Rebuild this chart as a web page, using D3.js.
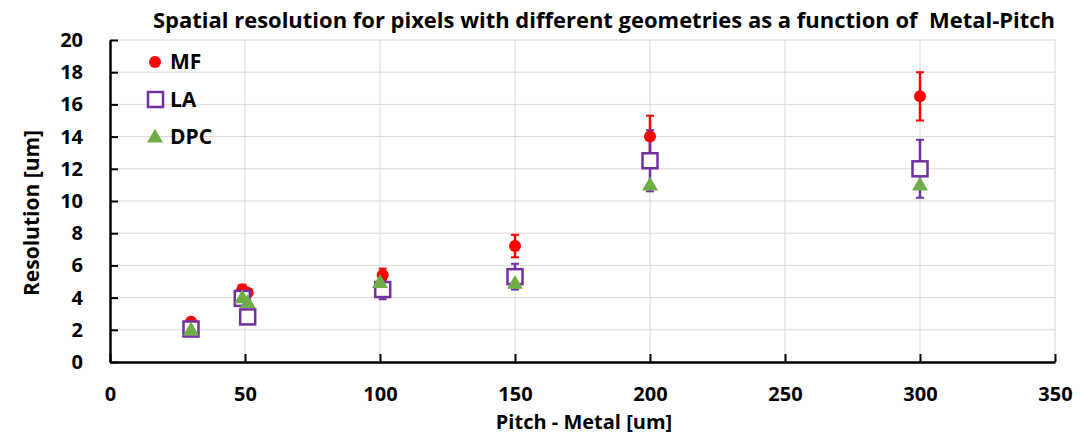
<!DOCTYPE html>
<html>
<head>
<meta charset="utf-8">
<script src="https://cdn.jsdelivr.net/npm/d3@7"></script>
<style>
  body { margin: 0; background: #fff; }
  text { font-family: "Open Sans", "Liberation Sans", sans-serif; font-weight: bold; fill: #000; white-space: pre; }
</style>
</head>
<body>
<svg id="chart"></svg>
<script>
// data
const mfX = [30, 49, 51, 101, 150, 200, 300];
const mfY = [2.5, 4.5, 4.3, 5.4, 7.2, 14.0, 16.5];
const mfErr = [0.1, 0.3, 0.2, 0.4, 0.7, 1.3, 1.5];

const laX = [30, 49, 51, 101, 150, 200, 300];
const laY = [2.05, 3.95, 2.8, 4.5, 5.3, 12.5, 12.0];
const laErr = [0.1, 0.3, 0.3, 0.6, 0.8, 1.9, 1.8];

const dpcX = [30, 49, 51, 100, 150, 200, 300];
const dpcY = [2.0, 4.0, 3.7, 4.95, 4.9, 11.0, 11.0];

const xTicks = [0, 50, 100, 150, 200, 250, 300, 350];
const yTicks = [0, 2, 4, 6, 8, 10, 12, 14, 16, 18, 20];

const W = 1081, H = 435;
const margin = { top: 40, right: 26, bottom: 73, left: 110 };
const iw = W - margin.left - margin.right;
const ih = H - margin.top - margin.bottom;

const svg = d3.select("#chart").attr("width", W).attr("height", H);
const g = svg.append("g").attr("transform", `translate(${margin.left},${margin.top})`);

const x = d3.scaleLinear().domain([0, 350]).range([0, iw]);
const y = d3.scaleLinear().domain([0, 20]).range([ih, 0]);

// grid
g.append("g").selectAll("line").data(yTicks.slice(1)).join("line")
  .attr("x1", 0).attr("x2", iw)
  .attr("y1", d => y(d)).attr("y2", d => y(d))
  .attr("stroke", "#d9d9d9").attr("stroke-width", 1);
g.append("g").selectAll("line").data(xTicks.slice(1)).join("line")
  .attr("x1", d => x(d)).attr("x2", d => x(d))
  .attr("y1", 0).attr("y2", ih)
  .attr("stroke", "#d9d9d9").attr("stroke-width", 1);

// axes, ticks inside
const xAxis = g.append("g").attr("transform", `translate(0,${ih})`)
  .call(d3.axisBottom(x).tickValues(xTicks).tickSizeInner(-8).tickSizeOuter(0).tickPadding(25));
const yAxis = g.append("g")
  .call(d3.axisLeft(y).tickValues(yTicks).tickSizeInner(-8).tickSizeOuter(0).tickPadding(27));
[xAxis, yAxis].forEach(a => {
  a.select(".domain").attr("stroke", "#000").attr("stroke-width", 2.5);
  a.selectAll(".tick line").attr("stroke", "#000").attr("stroke-width", 2);
  a.selectAll(".tick text").style("font-size", "20px").style("font-weight", "bold")
    .style("font-family", "'Open Sans', sans-serif").attr("fill", "#000");
});

const colMF = "#ff0000", colLA = "#7030a0", colDPC = "#70ad47";

function errBars(xs, ys, es, color) {
  const grp = g.append("g");
  xs.forEach((xv, i) => {
    const cx = x(xv), top = y(ys[i] + es[i]), bot = y(ys[i] - es[i]);
    grp.append("line").attr("x1", cx).attr("x2", cx).attr("y1", top).attr("y2", bot)
      .attr("stroke", color).attr("stroke-width", 2.5);
    [top, bot].forEach(yy => grp.append("line")
      .attr("x1", cx - 4).attr("x2", cx + 4).attr("y1", yy).attr("y2", yy)
      .attr("stroke", color).attr("stroke-width", 2));
  });
}

errBars(mfX, mfY, mfErr, colMF);
errBars(laX, laY, laErr, colLA);

// MF circles
g.append("g").selectAll("circle").data(mfX).join("circle")
  .attr("cx", d => x(d)).attr("cy", (d, i) => y(mfY[i])).attr("r", 6)
  .attr("fill", colMF);

// LA squares
g.append("g").selectAll("rect").data(laX).join("rect")
  .attr("x", d => x(d) - 7.5).attr("y", (d, i) => y(laY[i]) - 7.5)
  .attr("width", 15).attr("height", 15)
  .attr("fill", "#fff").attr("stroke", colLA).attr("stroke-width", 2.5);

// DPC triangles
const tri = d3.symbol().type(d3.symbolTriangle).size(110);
g.append("g").selectAll("path").data(dpcX).join("path")
  .attr("transform", (d, i) => `translate(${x(d)},${y(dpcY[i]) + 1})`)
  .attr("d", tri).attr("fill", colDPC);

// legend
const leg = svg.append("g");
leg.append("circle").attr("cx", 155).attr("cy", 62).attr("r", 6).attr("fill", colMF);
leg.append("rect").attr("x", 148).attr("y", 92).attr("width", 15).attr("height", 15)
  .attr("fill", "#fff").attr("stroke", colLA).attr("stroke-width", 2.5);
leg.append("path").attr("transform", "translate(155,138)").attr("d", tri).attr("fill", colDPC);
[["MF", 62], ["LA", 100], ["DPC", 137]].forEach(([t, yy]) =>
  leg.append("text").attr("x", 170).attr("y", yy).attr("dy", "0.35em")
    .style("font-size", "21px").text(t));

// title and axis titles
svg.append("text").attr("x", 153).attr("y", 28)
  .attr("textLength", 902).attr("lengthAdjust", "spacingAndGlyphs")
  .style("font-size", "21px")
  .text("Spatial resolution for pixels with different geometries as a function of  Metal-Pitch");
svg.append("text").attr("x", 584).attr("y", 429).attr("text-anchor", "middle")
  .style("font-size", "20px").text("Pitch - Metal [um]");
svg.append("text").attr("transform", "translate(39,213) rotate(-90)").attr("text-anchor", "middle")
  .style("font-size", "21px").text("Resolution [um]");
</script>
</body>
</html>
